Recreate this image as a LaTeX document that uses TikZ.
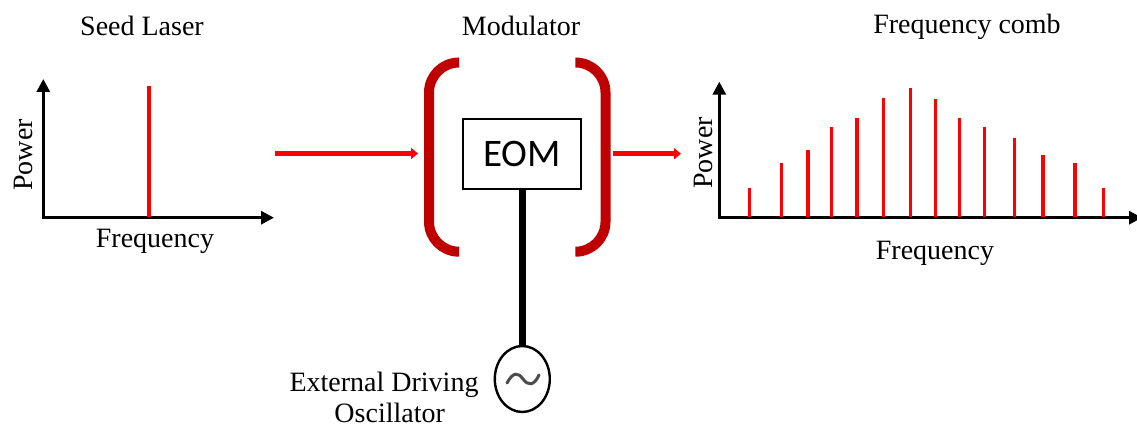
\documentclass[tikz,border=0pt]{standalone}
\usepackage{fontspec}
\setmainfont{Liberation Serif}
\newfontfamily\eomfont{Carlito}
\usetikzlibrary{arrows.meta,shapes.geometric}

\begin{document}
\begin{tikzpicture}
[
    x=1pt, y=-1pt,
    label/.style={font=\fontsize{28}{30}\selectfont, inner sep=0pt},
    axis/.style={line width=3pt, black, {Triangle[length=13pt,width=13pt]}-{Triangle[length=13pt,width=13pt]}, line join=miter},
    beam/.style={line width=4.6pt, red, -{Triangle[length=7pt,width=11pt]}},
    bracket/.style={line width=10pt, draw={rgb,255:red,192;green,0;blue,0}, rounded corners=30pt},
    tooth/.style={line width=3.3pt, red},
]
\useasboundingbox (0,0) rectangle (1137,425);

\node [label] (seedtitle) at (142,26) {Seed Laser};
\node [label] (modtitle) at (521,26) {Modulator};
\node [label] (combtitle) at (967,27) {Frequency comb};

\coordinate (seedtop) at (43.3,79);
\coordinate (seedorigin) at (43.3,217.7);
\coordinate (seedright) at (274,217.7);
\draw [axis] (seedtop) -- (seedorigin) -- (seedright);
\draw [tooth] (149,217) -- (149,86);
\node [label, rotate=90] (seedpower) at (23,155) {Power};
\node [label] (seedfreq) at (155,241) {Frequency};

\coordinate (inbeamstart) at (275,153.5);
\coordinate (inbeamend) at (418,153.5);
\draw [beam] (inbeamstart) -- (inbeamend);

\draw [bracket] (458.7,62.5) -- (429,62.5) -- (429,251.7) -- (458.7,251.7);
\draw [bracket] (576,62.5) -- (605.5,62.5) -- (605.5,251.7) -- (576,251.7);

\node [draw, line width=2pt, minimum width=118pt, minimum height=70pt, inner sep=0pt,
    font=\eomfont\fontsize{39}{40}\selectfont] (eom) at (522.3,153.8) {EOM};
\node [draw, ellipse, line width=2.4pt, minimum width=55pt, minimum height=66pt, inner sep=0pt] (osc) at (522.3,379) {};
\draw [line width=6.5pt] (eom.south) -- (osc.north);
\draw [line width=3pt, black!70, line cap=round] (507,383) .. controls (513,372) and (518,372) .. (523,379) .. controls (528,386) and (534,386) .. (539,375);
\node [label] (extlabel) at (384,385) {External Driving};
\node [label] (osclabel) at (389.7,413) {Oscillator};

\coordinate (outbeamstart) at (613,153.7);
\coordinate (outbeamend) at (681,153.7);
\draw [beam] (outbeamstart) -- (outbeamend);

\coordinate (combtop) at (719.3,81.7);
\coordinate (comborigin) at (719.3,217.7);
\coordinate (combright) at (1142,217.7);
\draw [axis] (combtop) -- (comborigin) -- (combright);
\foreach \x/\t in {749.7/188.3, 781.7/163.3, 808/150, 831.7/126.7, 857/118.3, 883.7/97.7, 910.7/87.7,
    935.7/99.3, 959.3/118.3, 984.3/126.7, 1014.7/138.3, 1043/155, 1075/163.3, 1103.3/188.3}
    \draw [tooth] (\x,217) -- (\x,\t);
\node [label, rotate=90] (combpower) at (703,153) {Power};
\node [label] (combfreq) at (935,253) {Frequency};
\end{tikzpicture}
\end{document}
